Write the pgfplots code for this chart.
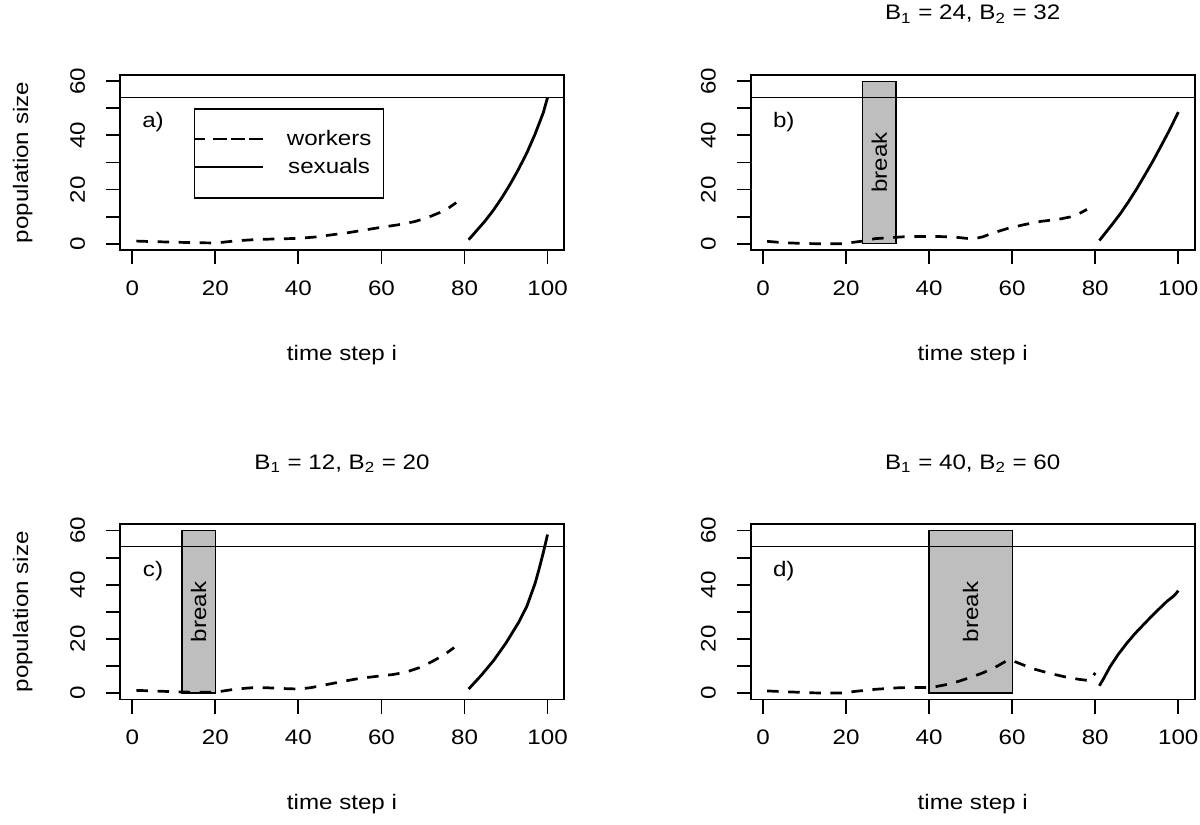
\documentclass[border=0pt]{standalone}
\usepackage{fontspec}
\setmainfont{Liberation Sans}[FakeStretch=1.15]
\usepackage{pgfplots}
\pgfplotsset{compat=1.18}
\definecolor{rgray}{HTML}{BEBEBE}

\pgfplotsset{
 every axis title shift=0pt,
 rpanel/.style={
  scale only axis, width=222bp, height=87.8bp,
  xmin=-2.96, xmax=103.96, ymin=-2.4, ymax=62.4,
  clip=false,
  axis line style={line width=0.9bp},
  every tick/.style={black, line width=0.9bp},
  tick align=outside, major tick length=7bp,
  tick pos=left,
  xtick={0,20,40,60,80,100}, xticklabels={0,20,40,60,80,100},
  ytick={0,10,20,30,40,50,60}, yticklabels={0,,20,,40,,60},
  xticklabel style={anchor=base, inner sep=0pt},
  yticklabel style={rotate=90, anchor=base, inner sep=0pt},
  xticklabel shift=15.5bp, yticklabel shift=10.5bp,
  xlabel={time step i},
  xlabel style={at={(axis description cs:0.5,-0.627)}, anchor=base, inner sep=0pt},
  ylabel style={at={(axis description cs:-0.207,0.5)}, anchor=base, inner sep=0pt},
  title style={at={(axis description cs:0.5,1.312)}, anchor=base, inner sep=0pt},
  font=\fontsize{10.5bp}{12.6bp}\selectfont,
 },
 wk/.style={black, line width=1.35bp, dash pattern=on 5.75bp off 4.8bp, forget plot},
 sx/.style={black, line width=1.4bp, forget plot},
 hl/.style={black, line width=0.65bp, forget plot},
 brk/.style={fill=rgray, draw=black, line width=0.65bp, forget plot},
}

\begin{document}
\begin{tikzpicture}
\path[use as bounding box] (0,0) rectangle (600bp,412.5bp);

% ---------- a) ----------
\begin{axis}[rpanel, at={(60bp,375.15bp)}, anchor=north west,
  ylabel={population size},
  legend style={at={(axis cs:14.8,50)}, anchor=north west, draw=black, line width=0.7bp,
    inner xsep=0pt, inner ysep=11.25bp, row sep=6bp, column sep=11.5bp,
    nodes={inner sep=0pt, text height=7bp, text depth=1bp},
    font=\fontsize{10.5bp}{12.6bp}\selectfont},
  legend image code/.code={\path (0bp,0.3bp) -- (34bp,0.3bp); \draw[#1] (11bp,0.3bp) -- (34bp,0.3bp);},
]
\addplot[hl] coordinates {(-2.96,54) (103.96,54)};
\addplot[wk] coordinates {(1,1.0) (5,0.8) (10,0.6) (15,0.4) (20,0.3) (22,0.6) (25,1.1) (30,1.6) (35,1.8) (40,2.0) (44,2.5) (48,3.3) (52,4.1) (56,5.1) (60,6.1) (64,7.0) (68,8.2) (71,9.6) (74,11.5) (76,13.0) (78,15.2)};
\addplot[sx] coordinates {(81,1.5) (83,5) (85,8.5) (87,12.5) (89,17) (91,22) (93,27.5) (95,33.5) (97,40.5) (99,48.5) (100,54)};
\node at (axis cs:5,45) {a)};
\addlegendimage{black, line width=0.7bp, dash pattern=on 5bp off 4bp}
\addlegendentry{workers\kern6bp}
\addlegendimage{black, line width=0.7bp}
\addlegendentry{sexuals\kern6bp}
\end{axis}

% ---------- b) ----------
\begin{axis}[rpanel, at={(375.35bp,375.15bp)}, anchor=north west,
  title={B\textsubscript{1} = 24, B\textsubscript{2} = 32}]
\addplot[brk] coordinates {(24,0) (24,60) (32,60) (32,0)} -- cycle;
\node[rotate=90] at (axis cs:28,30) {break};
\addplot[hl] coordinates {(-2.96,54) (103.96,54)};
\addplot[wk] coordinates {(1,0.9) (5,0.4) (10,0.1) (15,0.0) (19,0.0) (22,0.6) (24,1.0) (27,1.9) (30,2.2) (34,2.6) (38,2.7) (42,2.7) (46,2.5) (49,2.0) (51,1.9) (53,2.6) (55,3.8) (59,5.7) (63,7.1) (67,8.3) (71,9.0) (74,9.9) (76,11.0) (78,12.7)};
\addplot[sx] coordinates {(81,1.2) (84,7.0) (86,11) (88,15.5) (90,20.3) (92,25.5) (94,30.8) (96,36.5) (98,42.3) (100,48.6)};
\node at (axis cs:5,45) {b)};
\end{axis}

% ---------- c) ----------
\begin{axis}[rpanel, at={(60bp,150.5bp)}, anchor=north west,
  ylabel={population size},
  title={B\textsubscript{1} = 12, B\textsubscript{2} = 20}]
\addplot[brk] coordinates {(12,0) (12,60) (20,60) (20,0)} -- cycle;
\node[rotate=90] at (axis cs:16,30) {break};
\addplot[hl] coordinates {(-2.96,54) (103.96,54)};
\addplot[wk] coordinates {(1,1.0) (5,0.8) (10,0.5) (15,0.3) (20,0.3) (22,0.8) (25,1.5) (29,2.0) (32,2.0) (36,1.7) (40,1.5) (43,2.0) (47,3.2) (51,4.4) (55,5.5) (59,6.2) (63,6.9) (66,7.8) (69,9.3) (72,11.5) (75,14.0) (77.5,16.8)};
\addplot[sx] coordinates {(81,1.5) (84,6.5) (87,12) (90,18.5) (93,26) (95,32) (97,40.5) (98,46) (99,52) (100,58.5)};
\node at (axis cs:5,45) {c)};
\end{axis}

% ---------- d) ----------
\begin{axis}[rpanel, at={(375.35bp,150.5bp)}, anchor=north west,
  title={B\textsubscript{1} = 40, B\textsubscript{2} = 60}]
\addplot[brk] coordinates {(40,0) (40,60) (60,60) (60,0)} -- cycle;
\node[rotate=90] at (axis cs:50,30) {break};
\addplot[hl] coordinates {(-2.96,54) (103.96,54)};
\addplot[wk] coordinates {(1,0.8) (7,0.4) (12,0.1) (15,0.0) (19,0.0) (22,0.6) (27,1.4) (33,2.0) (40,2.1) (41,2.2) (44,3.1) (47,4.3) (50,5.8) (53,7.5) (56,9.6) (59,12.2) (60,12.0) (62,10.8) (65,9.0) (69,7.3) (73,5.9) (76,5.1) (78.5,4.6) (79.3,5.6) (80,7.5)};
\addplot[sx] coordinates {(81,2.7) (82,5.3) (83.6,9.8) (85.5,14.2) (87.6,18.4) (89.6,22.0) (91.6,25.2) (93.6,28.4) (95.6,31.4) (97.3,33.9) (98.8,35.7) (99.5,36.8) (100,37.8)};
\node at (axis cs:5,45) {d)};
\end{axis}
\end{tikzpicture}
\end{document}
